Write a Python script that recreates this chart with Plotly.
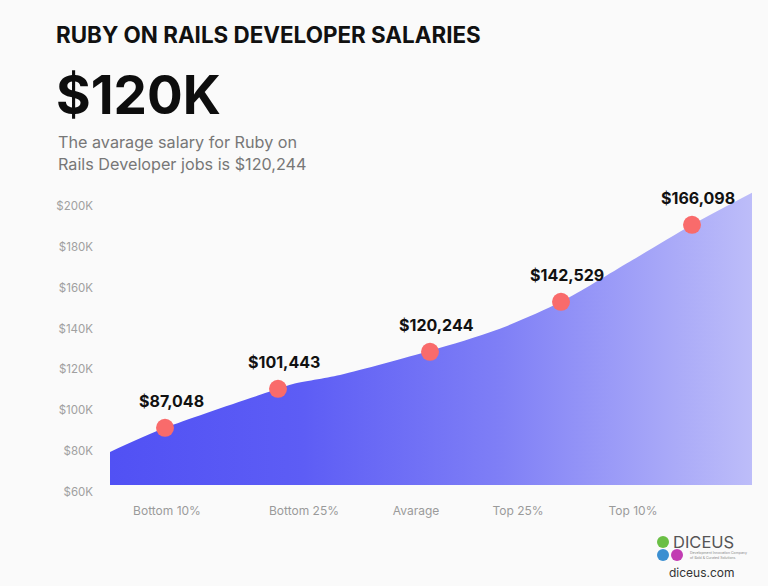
import plotly.graph_objects as go

# ---------------- data ----------------
categories = ["Bottom 10%", "Bottom 25%", "Avarage", "Top 25%", "Top 10%"]
category_pos = [67, 204, 316, 418, 533]          # x positions of category labels
salaries = [87048, 101443, 120244, 142529, 166098]
dot_x = [65, 178, 330, 461, 592]                  # x positions of the markers
dot_y = [91.4, 110.5, 128.6, 153.1, 190.8]        # marker heights in $K (as drawn)
curve_x = [10, 65, 178, 193, 240, 330, 397, 461, 530, 592, 652]
curve_y = [79.6, 91.4, 110.5, 112.9, 117.3, 129.1, 139.4, 153.1, 172.8, 190.8, 206.5]
base_y = 63.4
y_ticks = [60, 80, 100, 120, 140, 160, 180, 200]
y_tick_text = [f"${v}K" for v in y_ticks]
salary_labels = [f"${v:,}" for v in salaries]

W, H = 768, 586
ML, MR, MT, MB = 100, 8, 192, 94
PW, PH = W - ML - MR, H - MT - MB


def px(x):
    return (x - ML) / PW


def py(y):
    return (H - MB - y) / PH


FONT = "Inter, 'Open Sans', sans-serif"

fig = go.Figure()

# baseline for the area
fig.add_trace(go.Scatter(
    x=[curve_x[0], curve_x[-1]], y=[base_y, base_y], mode="lines",
    line=dict(width=0, color="rgba(0,0,0,0)"), hoverinfo="skip", showlegend=False))

# gradient area
fig.add_trace(go.Scatter(
    x=curve_x, y=curve_y, mode="lines", fill="tonexty",
    line=dict(width=0, shape="spline", smoothing=0.8, color="rgba(0,0,0,0)"),
    fillgradient=dict(type="horizontal",
                      colorscale=[[0, "#5151f4"], [0.3, "#5d5df5"],
                                  [0.6, "#7e7ef6"], [1, "#bdbdf9"]]),
    hoverinfo="skip", showlegend=False))

# markers
fig.add_trace(go.Scatter(
    x=dot_x, y=dot_y, mode="markers",
    marker=dict(size=18, color="#f96b6b", line=dict(width=0)),
    hoverinfo="skip", showlegend=False))

annotations = []
for xv, yv, lab in zip(dot_x, dot_y, salary_labels):
    annotations.append(dict(
        x=xv, y=yv, xref="x", yref="y", text=f"<b>{lab}</b>", showarrow=False,
        xshift=6, yshift=27, font=dict(family=FONT, size=16, color="#111111")))

annotations += [
    dict(x=px(54), y=py(35), xref="paper", yref="paper", xanchor="left", yanchor="middle",
         text="<b>RUBY ON RAILS DEVELOPER SALARIES</b>", showarrow=False,
         font=dict(family=FONT, size=22.4, color="#111111")),
    dict(x=px(54), y=py(95), xref="paper", yref="paper", xanchor="left", yanchor="middle",
         text="<b>$120K</b>", showarrow=False,
         font=dict(family=FONT, size=53, color="#0d0d0d")),
    dict(x=px(56), y=py(142), xref="paper", yref="paper", xanchor="left", yanchor="middle",
         text="The avarage salary for Ruby on", showarrow=False,
         font=dict(family=FONT, size=16.2, color="#777777")),
    dict(x=px(56), y=py(164), xref="paper", yref="paper", xanchor="left", yanchor="middle",
         text="Rails Developer jobs is $120,244", showarrow=False,
         font=dict(family=FONT, size=16.2, color="#777777")),
    # logo text
    dict(x=px(671), y=py(542), xref="paper", yref="paper", xanchor="left", yanchor="middle",
         text="DICEUS", showarrow=False,
         font=dict(family=FONT, size=16.5, color="#555555")),
    dict(x=px(688), y=py(555), xref="paper", yref="paper", xanchor="left", yanchor="middle",
         text="Development Innovation Company<br>of Bold & Curated Solutions", showarrow=False,
         font=dict(family=FONT, size=3.5, color="#888888"), align="left"),
    dict(x=px(702), y=py(572), xref="paper", yref="paper", xanchor="center", yanchor="middle",
         text="diceus.com", showarrow=False,
         font=dict(family=FONT, size=12, color="#333333")),
]

shapes = []
for cx, cy, col in [(663, 542, "#6abf45"), (663, 555, "#3b8fd1"), (677, 555, "#c23cb2")]:
    shapes.append(dict(type="circle", xref="paper", yref="paper",
                       x0=px(cx - 6), x1=px(cx + 6), y0=py(cy + 6), y1=py(cy - 6),
                       fillcolor=col, line=dict(width=0), layer="above"))

fig.update_layout(
    width=W, height=H,
    margin=dict(l=ML, r=MR, t=MT, b=MB),
    paper_bgcolor="#fafafa", plot_bgcolor="#fafafa",
    showlegend=False, hovermode=False,
    xaxis=dict(range=[0, PW], tickmode="array", tickvals=category_pos, ticktext=categories,
               showgrid=False, zeroline=False, showline=False, ticks="",
               ticklabelstandoff=10,
               tickfont=dict(family=FONT, size=12, color="#9a9a9a")),
    yaxis=dict(range=[60, 60 + PH / (286 / 140)], tickmode="array", tickvals=y_ticks,
               ticktext=y_tick_text, showgrid=False, zeroline=False, showline=False,
               ticks="", ticklabelstandoff=6,
               tickfont=dict(family=FONT, size=11.5, color="#a0a0a0")),
    annotations=annotations, shapes=shapes,
)

fig.write_html("out.html")
